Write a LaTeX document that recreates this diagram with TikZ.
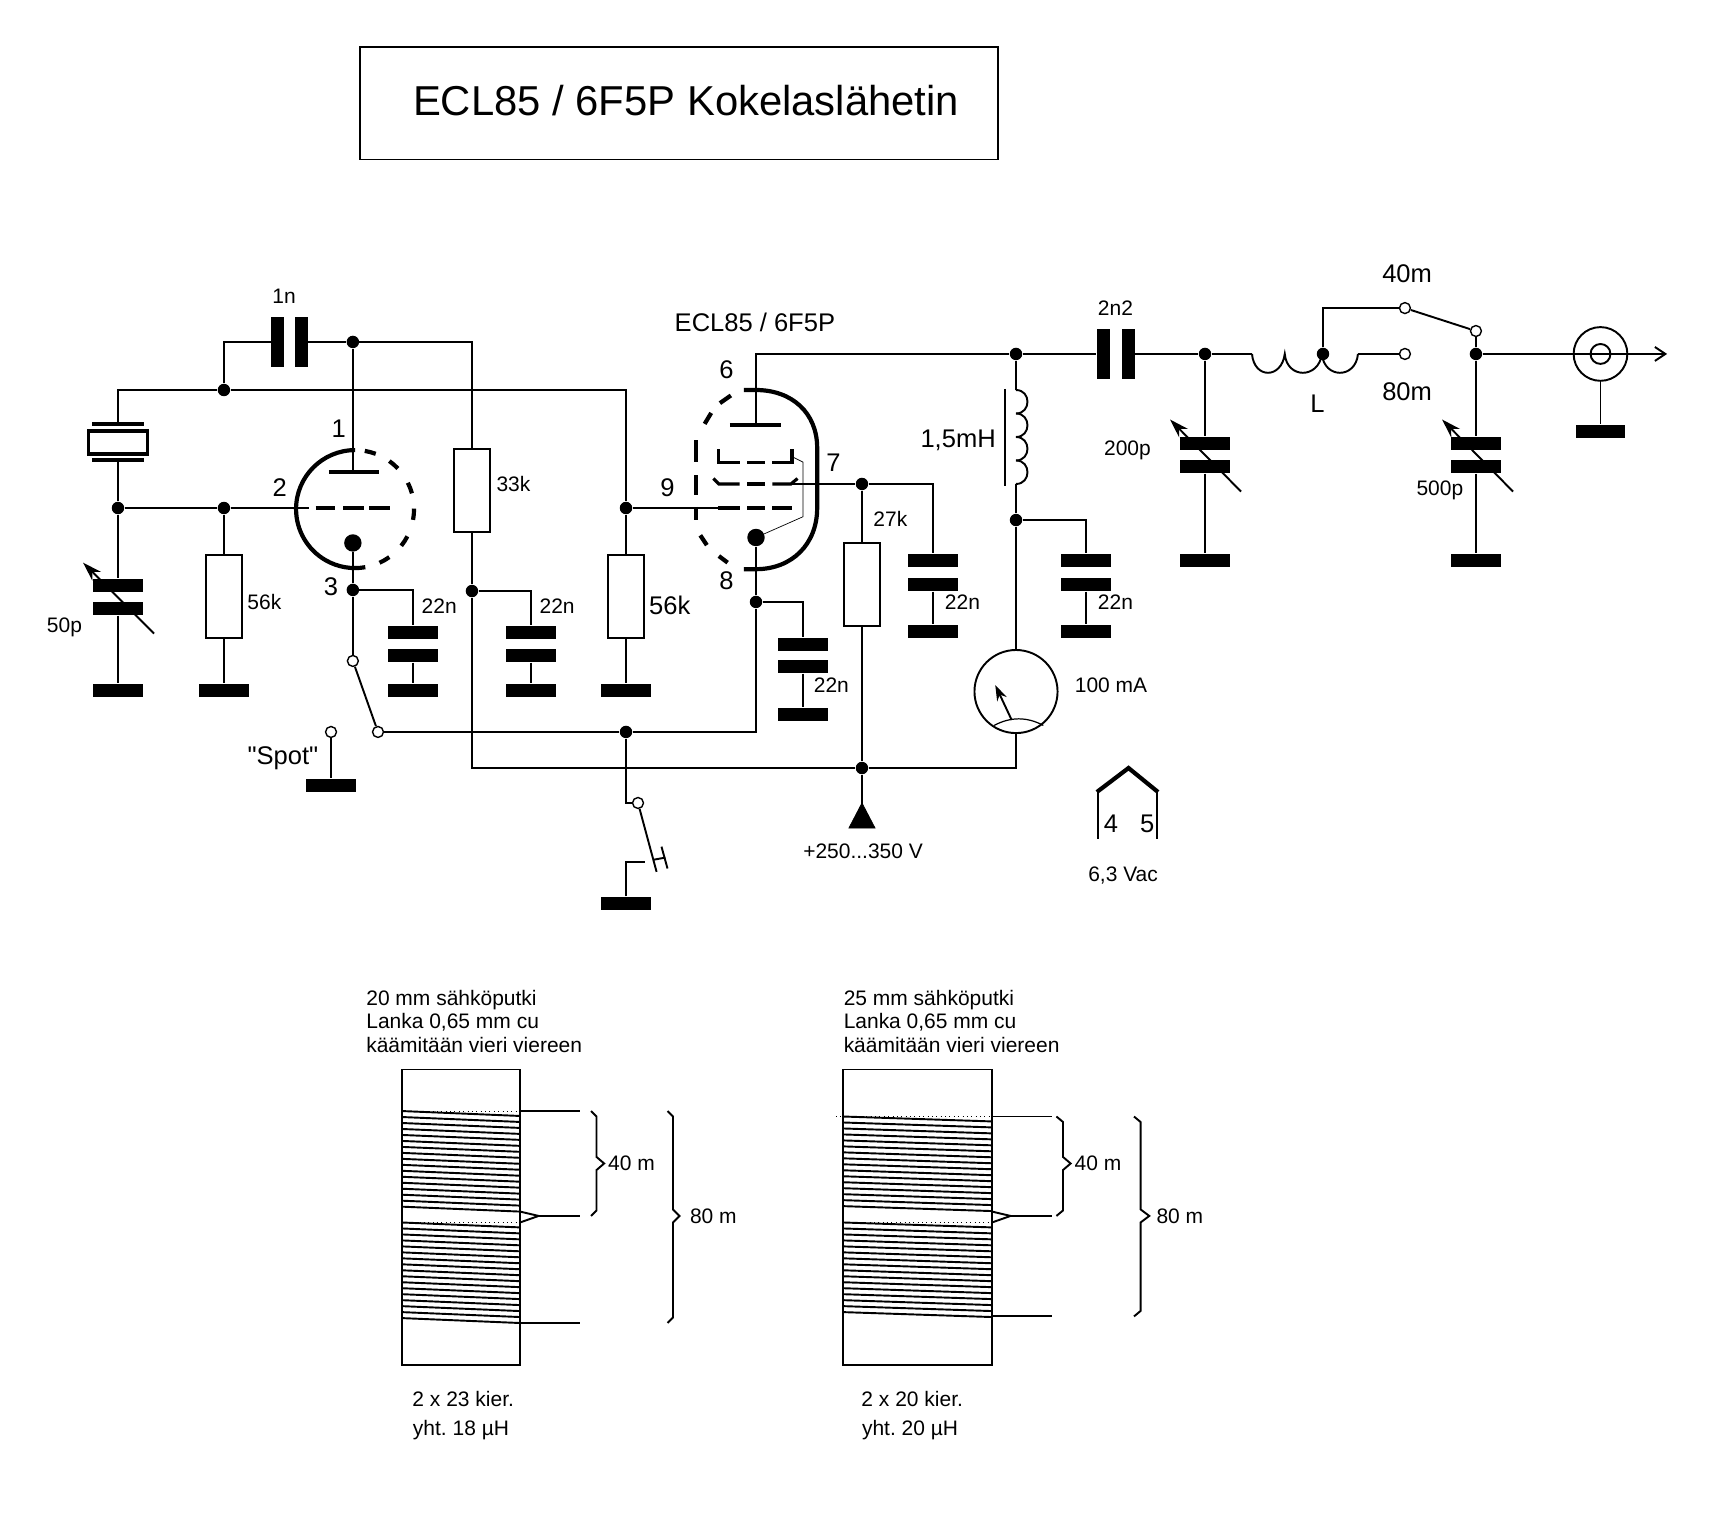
\documentclass[tikz,border=0pt]{standalone}
\usepackage{fontspec}
\setmainfont{Liberation Sans}[Ligatures=TeXOff]
\usetikzlibrary{arrows.meta}
\tikzset{
  wire/.style={line width=1.1pt},
  thinwire/.style={line width=0.4pt},
  bulb/.style={line width=2.4pt},
  turn/.style={line width=1.1pt},
  dot/.style={circle, fill=black, minimum size=0.25cm, inner sep=0pt},
  contact/.style={circle, draw, fill=white, line width=0.8pt, minimum size=0.22cm, inner sep=0pt},
  plate/.style={rectangle, fill=black, minimum width=0.99cm, minimum height=0.275cm, inner sep=0pt},
  vplate/.style={rectangle, fill=black, minimum width=0.265cm, minimum height=0.99cm, inner sep=0pt},
  res/.style={rectangle, draw, line width=1.1pt, minimum width=0.725cm, minimum height=1.67cm, inner sep=0pt},
  smalltxt/.style={inner sep=0pt, font=\fontsize{12}{13.6}\selectfont},
  bigtxt/.style={inner sep=0pt, font=\fontsize{14.6}{17}\selectfont},
  trimarrow/.style={line width=1.1pt, -{Stealth[length=11pt,width=7pt]}},
  x=0.02196cm, y=-0.02196cm
}

\begin{document}
\frenchspacing
\begin{tikzpicture}
\useasboundingbox (0,0) rectangle (1568,1389.5);

% Otsikko
\node[draw, line width=1pt, minimum width=12.82cm, minimum height=2.26cm] (titlebox) at (621.5,94.5) {};
\node[inner sep=0pt, font=\fontsize{23.9}{28}\selectfont] (title) at (628,92) {ECL85 / 6F5P Kokelaslähetin};

% Liitospisteet
\foreach \nm/\x/\y in {gridJ/108/465, gridR/205/465, fbJ/205/357, anodeJ/323/313, cathJ/323/540,
    screenR/432/541, g2J/573/465, keyJ/573/670, cathB/692/551, scrJ/789/443, battJ/789/703,
    plateJ/930/324, chokeJ/930/476, tankJ/1103/324, tapJ/1211/324, outJ/1351/324}
  \node[dot] (\nm) at (\x,\y) {};

% Kondensaattorit: levyt ja maa
\foreach \nm/\x/\ya/\yb/\yg in {tune/108/536/557/632, cathC/378/579/600/632, scrC/486/579/600/632,
    cathD/735/590/610/654, scrD/854/513/535/578, plateD/994/513/535/578,
    tankC/1103/406/427/513, loadC/1351/406/427/513} {
  \node[plate] (\nm A) at (\x,\ya) {};
  \node[plate] (\nm B) at (\x,\yb) {};
  \node[plate] (\nm G) at (\x,\yg) {};
  \draw[wire] (\nm B) -- (\nm G);
}

% Säädettävien nuolet
\coordinate (tuneS) at (141,580);   \coordinate (tuneE) at (76,515);
\coordinate (tankS) at (1136,450);  \coordinate (tankE) at (1071,384);
\coordinate (loadS) at (1385,450);  \coordinate (loadE) at (1320,384);
\foreach \nm in {tune,tank,load}
  \draw[trimarrow] (\nm S) -- (\nm E);

% Muut maat
\foreach \nm/\x/\y in {gndR/205/632, gndG/573/632, gndSpot/303/719, gndKey/573/827, gndOut/1465/395}
  \node[plate] (\nm) at (\x,\y) {};

% Vastukset
\node[res] (rGrid) at (205,546) {};
\node[res] (rScreen) at (432,449) {};
\node[res] (rG2) at (573,546) {};
\node[res] (rDrop) at (789,535) {};

% Kide
\node[rectangle, draw, line width=2pt, minimum width=1.19cm, minimum height=0.46cm, inner sep=0pt] (xtal) at (108,405) {};
\node[plate, minimum width=1.03cm, minimum height=0.08cm] (xtalT) at (108,388) {};
\node[plate, minimum width=1.03cm, minimum height=0.08cm] (xtalB) at (108,421) {};

% Kytkentäkondensaattorit
\node[vplate] (fbA) at (254,313) {};
\node[vplate] (fbB) at (276,313) {};
\node[vplate] (outA) at (1010,324) {};
\node[vplate] (outB) at (1033,324) {};

% Kytkimet
\node[contact] (swA) at (323,605) {};
\node[contact] (swB) at (346,670) {};
\node[contact] (swSpot) at (303,670) {};
\node[contact] (keyA) at (584,735) {};
\node[contact] (bandA) at (1286,282) {};
\node[contact] (bandB) at (1286,324) {};
\node[contact] (bandC) at (1351,303) {};

% Mittari ja liitin
\node[circle, draw, line width=1.1pt, minimum size=1.67cm, inner sep=0pt] (meter) at (930,633) {};
\node[circle, draw, line width=1.1pt, minimum size=1.08cm, inner sep=0pt] (bnc) at (1465,324) {};
\node[circle, draw, line width=1.1pt, minimum size=0.4cm, inner sep=0pt] (bncIn) at (1465,324) {};

%% Triodi
\coordinate (tri) at (325,466);
\coordinate (triA) at (323,432);
\node[dot, minimum size=0.35cm] (triK) at (323,497) {};
\draw[bulb] (tri) ++(-90:54) arc[start angle=-90, end angle=-280, radius=54];
\foreach \a in {-75,-49,-21,5,33,60}
  \draw[bulb] (tri) ++(\a-5.5:54) arc[start angle=\a-5.5, delta angle=11, radius=54];
\draw[bulb] (301,432) -- (347,432);
\foreach \xa/\xb in {289/307, 314/333, 338/357}
  \draw[bulb, line width=1.8pt] (\xa,465) -- (\xb,465);

%% Pentodi
\coordinate (penA) at (692,389);
\coordinate (penG) at (657,465);
\coordinate (penS) at (724,443);
\node[dot, minimum size=0.35cm] (penK) at (692,492) {};
\draw[bulb] (681,357) -- (692,357) .. controls (725,357) and (748,378) .. (748,410)
      -- (748,465) .. controls (748,498) and (725,521) .. (692,521) -- (681,521);
\foreach \xa/\ya/\xb/\yb in {645/388/651/378, 659/369/669/362, 637/403/637/423, 637/435/637/453,
    637/464/637/476, 641/490/647/499, 658/509/666/515}
  \draw[bulb] (\xa,\ya) -- (\xb,\yb);
\draw[bulb, line width=1.8pt] (668,389) -- (715,389);
\draw[bulb, line width=1.8pt] (658,411) -- (658,423) -- (677,423);
\draw[bulb, line width=1.8pt] (684,423) -- (700,423);
\draw[bulb, line width=1.8pt] (707,423) -- (725,423) -- (725,411);
\draw[bulb, line width=1.8pt] (653,438) -- (658,443) -- (677,443);
\draw[bulb, line width=1.8pt] (684,443) -- (700,443);
\draw[bulb, line width=1.8pt] (707,443) -- (724,443) -- (730,438);
\foreach \xa/\xb in {657/677, 684/700, 707/725}
  \draw[bulb, line width=1.8pt] (\xa,465) -- (\xb,465);
\draw[thinwire] (725,418) -- (735,423) -- (735,473) -- (penK);

%% Johdot
\draw[wire] (gridJ) -- (xtalB);
\draw[wire] (xtalT) |- (fbJ);
\draw[wire] (fbJ) -| (g2J);
\draw[wire] (fbJ) |- (fbA);
\draw[wire] (fbB) -- (anodeJ);
\draw[wire] (anodeJ) -- (triA);
\draw[wire] (anodeJ) -| (rScreen);
\draw[wire] (rScreen) -- (screenR);
\draw[wire] (screenR) |- (battJ);
\draw[wire] (screenR) -| (scrCA);
\draw[wire] (gridJ) -- (tuneA);
\draw[wire] (gridJ) -- (gridR);
\draw[wire] (gridR) -- (283,465);
\draw[wire] (gridR) -- (rGrid);
\draw[wire] (rGrid) -- (gndR);
\draw[wire] (triK) -- (cathJ);
\draw[wire] (cathJ) -| (cathCA);
\draw[wire] (cathJ) -- (swA);
\draw[wire] (swA) -- (swB);
\draw[wire] (swB) -- (keyJ);
\draw[wire] (keyJ) -| (cathB);
\draw[wire] (cathB) -- (penK);
\draw[wire] (cathB) -| (cathDA);
\draw[wire] (swSpot) -- (gndSpot);
\draw[wire] (g2J) -- (penG);
\draw[wire] (g2J) -- (rG2);
\draw[wire] (rG2) -- (gndG);
\draw[wire] (keyJ) |- (keyA);
\coordinate (keyE) at (601,798);
\coordinate (keyG) at (590,789);
\draw[wire] (keyA) -- (keyE);
\draw[wire] (gndKey) |- (keyG);
\draw[wire] (598,787) -- (609,785);
\draw[wire] (605.5,775) -- (611,795);
\draw[wire] (penA) |- (plateJ);
\draw[wire] (penS) -- (scrJ);
\draw[wire] (scrJ) -| (scrDA);
\draw[wire] (scrJ) -- (rDrop);
\draw[wire] (rDrop) -- (battJ);
\draw[wire] (battJ) -| (meter);
\coordinate (battT) at (789,740);
\draw[wire] (battJ) -- (battT);
\draw[fill=black] (789,735) -- (801,758) -- (777,758) -- cycle;

% Kuristin
\coordinate (chokeT) at (930,357);
\coordinate (chokeB) at (930,443);
\draw[wire] (plateJ) -- (chokeT);
\foreach \i in {0,1,2,3}
  \draw[wire] (930,{357+\i*21.5}) .. controls (944,{357+\i*21.5}) and (944,{378.5+\i*21.5}) .. (930,{378.5+\i*21.5});
\draw[wire] (920,356) -- (920,445);
\draw[wire] (chokeB) -- (chokeJ);
\draw[wire] (chokeJ) -- (meter);
\draw[wire] (chokeJ) -| (plateDA);

% Mittarin osoitin
\draw[wire, -{Stealth[length=9pt,width=6pt]}] (926,659) -- (911,627);
\draw[line width=0.7pt] (910,664) .. controls (925,656) and (940,656) .. (955,664);

% Ulostulo
\draw[wire] (plateJ) -- (outA);
\draw[wire] (outB) -- (tankJ);
\draw[wire] (tankJ) -- (tankCA);
\coordinate (coilS) at (1146,324);
\coordinate (coilE) at (1243,324);
\draw[wire] (tankJ) -- (coilS);
\draw[wire] (coilS) .. controls (1148,347) and (1173,347) .. (1176,324)
      .. controls (1178,347) and (1207,347) .. (1210,324)
      .. controls (1212,347) and (1241,347) .. (coilE);
\draw[wire] (coilE) -- (bandB);
\draw[wire] (tapJ) |- (bandA);
\draw[wire] (bandA) -- (bandC);
\draw[wire] (bandC) -- (outJ);
\draw[wire] (outJ) -- (loadCA);
\coordinate (outE) at (1526,324);
\draw[wire, -{Straight Barb[length=6pt,width=8pt]}] (outJ) -- (outE);
\draw[wire] (bnc) -- (gndOut);

% Hehku
\draw[line width=2.4pt] (1004,725) -- (1033,703) -- (1060,725);
\draw[wire] (1005,725) -- (1005,768);
\draw[wire] (1059,725) -- (1059,768);

%% Tekstit
\foreach \nm/\x/\y/\t in {tFb/260/271/1n, tTune/59/574/50p, tRGrid/242/551/56k, tC1/402/555/22n,
    tRS/470/443/33k, tC2/510/555/22n, tC3/761/627/22n, tRD/815/475/27k, tC4/881/551/22n,
    tC5/1021/551/22n, tMeter/1017/627/100 mA, tOut/1021/282/2n2, tTank/1032/412/200p,
    tLoad/1318/449/500p, tBatt/790/779/{+250...350 V}, tHeat/1028/801/{6,3 Vac},
    tA40/578/1065/40 m, tA80/653/1113/80 m, tB40/1005/1065/40 m, tB80/1080/1113/80 m,
    tATurn/424/1281/2 x 23 kier., tAL/422/1309/yht. 18 µH, tBTurn/835/1281/2 x 20 kier., tBL/833/1309/yht. 20 µH}
  \node[smalltxt] (\nm) at (\x,\y) {\t};
\foreach \nm/\x/\y/\t in {tPin1/310/392/1, tPin2/256/446/2, tPin3/303/537/3, tPin6/665/338/6,
    tPin7/763/424/7, tPin9/611/446/9, tPin8/665/532/8, tTube/691/295/{ECL85 / 6F5P}, tRG2/613/554/56k,
    tChoke/877/403/{1,5mH}, tSpot/259/694/"Spot", tL/1206/370/L, t40/1288/251/40m, t80/1288/359/80m,
    tPin4/1017/754/4, tPin5/1050/754/5}
  \node[bigtxt] (\nm) at (\x,\y) {\t};

%% Käämit
\node[smalltxt, anchor=west, align=left] (tFormA) at (335,935) {20 mm sähköputki\\Lanka 0,65 mm cu\\käämitään vieri viereen};
\node[smalltxt, anchor=west, align=left] (tFormB) at (772,935) {25 mm sähköputki\\Lanka 0,65 mm cu\\käämitään vieri viereen};
\node[rectangle, draw, line width=1.1pt, minimum width=2.37cm, minimum height=5.93cm, inner sep=0pt] (formA) at (422,1114) {};
\node[rectangle, draw, line width=1.1pt, minimum width=2.99cm, minimum height=5.93cm, inner sep=0pt] (formB) at (840,1114) {};

\foreach \xa/\xb/\ytop in {368/476/1017, 368/476/1119, 765/908/1022, 772/908/1119} {
  \draw[line width=0.5pt, dotted] (\xa,\ytop) -- (\xb,\ytop);
}
\foreach \xa/\xb/\ytop/\nturn in {368/476/1017/17, 368/476/1119/17, 772/908/1022/16, 772/908/1119/16} {
  \foreach \i in {1,...,\nturn}
    \draw[turn] (\xa,{\ytop+(\i-1)*5.47}) -- (\xb,{\ytop+(\i-1)*5.47+4.5});
}

\foreach \xb/\xe/\ya/\yb in {476/531/1017/1211, 908/963/1022/1205} {
  \draw[wire] (\xb,\ya) -- (\xe,\ya);
  \draw[wire] (\xb,1109) -- (\xb+17,1113) -- (\xb,1119);
  \draw[wire] (\xb+17,1113) -- (\xe,1113);
  \draw[wire] (\xb,\yb) -- (\xe,\yb);
}

% Aaltosulut
\foreach \xa/\xb/\xc/\ya/\ym/\yb in {541/546/553/1017/1065/1113, 611/616/622/1017/1113/1211,
    967/973/980/1022/1065/1113, 1038/1044/1052/1022/1113/1205}
  \draw[wire] (\xa,\ya) -- (\xb,\ya+5) -- (\xb,\ym-6) -- (\xc,\ym) -- (\xb,\ym+6) -- (\xb,\yb-5) -- (\xa,\yb);

\end{tikzpicture}
\end{document}
